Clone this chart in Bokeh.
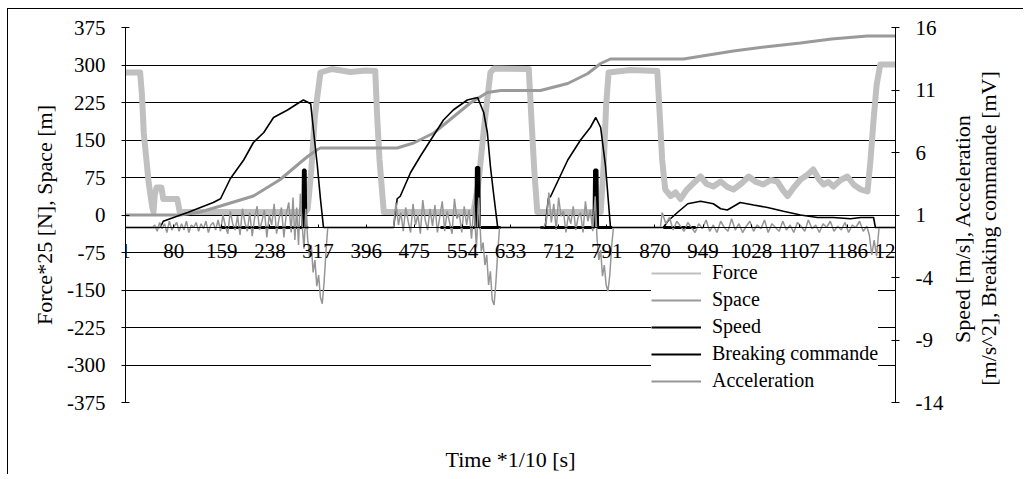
import math
import numpy as np
from bokeh.plotting import figure
from bokeh.layouts import row
from bokeh.models import Range1d, LinearAxis, FixedTicker, Grid, Legend, LegendItem, Label
from bokeh.embed import file_html
from bokeh.resources import INLINE

FONT = "Liberation Serif"

# ---------------- data ----------------
x_ticks = [1, 80, 159, 238, 317, 396, 475, 554, 633, 712, 791, 870, 949, 1028, 1107, 1186, 1265]
left_ticks = [-375, -300, -225, -150, -75, 0, 75, 150, 225, 300, 375]
right_ticks = [-14, -9, -4, 1, 6, 11, 16]

# Force*25 [N] (left axis)
force_t = [1, 25, 28, 31, 39, 45, 47, 49, 52, 60, 63, 86, 90, 296, 300, 306, 312, 321, 340, 370, 395, 411,
           414, 418, 425, 572, 580, 590, 600, 606, 663, 667, 672, 677, 781, 786, 790, 794, 830, 874,
           878, 882, 887, 896, 904, 912, 922, 932, 945, 955, 966, 978, 989, 999, 1012, 1024, 1036,
           1048, 1060, 1071, 1080, 1088, 1098, 1109, 1120, 1130, 1140, 1147, 1155, 1163, 1175, 1186,
           1197, 1208, 1219, 1224, 1229, 1234, 1240, 1265]
force_v = [285, 285, 240, 164, 65, 15, 6, 40, 55, 55, 32, 32, 6, 6, 12, 90, 200, 285, 292, 286, 289, 288,
           200, 110, 6, 6, 60, 180, 285, 293, 292, 200, 90, 6, 6, 100, 220, 285, 290, 288,
           200, 110, 51, 38, 45, 32, 50, 62, 77, 62, 57, 67, 56, 51, 63, 77, 66,
           61, 70, 67, 50, 38, 55, 71, 80, 91, 70, 61, 66, 57, 70, 77,
           60, 51, 47, 110, 190, 260, 301, 301]

# Space [m] (left axis)
space_t = [1, 91, 124, 157, 211, 255, 288, 300, 316, 321, 447, 474, 507, 539, 567, 595, 617, 682, 727, 760,
           781, 797, 917, 999, 1050, 1109, 1160, 1219, 1265]
space_v = [0, 0, 6, 18, 38, 71, 105, 117, 131, 134, 134, 144, 164, 196, 224, 245, 249, 249, 263, 283,
           303, 312, 312, 328, 336, 344, 352, 358, 358]

# Speed [m/s] (right axis)
speed_t = [1, 58, 63, 80, 103, 124, 145, 157, 173, 195, 211, 228, 244, 267, 283, 293, 305, 310, 316, 321,
           326, 441, 447, 452, 469, 485, 502, 523, 539, 562, 579, 589, 595, 600, 605, 612, 690, 695, 699, 727,
           748, 764, 773, 781, 789, 797, 799, 884, 891, 907, 924, 945, 966, 978, 989, 1010, 1032, 1055, 1081,
           1109, 1137, 1163, 1191, 1208, 1229, 1232, 1265]
speed_v = [0, 0, 0.5, 0.8, 1.2, 1.6, 2.0, 2.3, 3.9, 5.4, 6.8, 7.6, 8.8, 9.4, 9.9, 10.2, 9.9, 7.6, 4.9, 2.3,
           0, 0, 2.3, 2.5, 4.4, 5.7, 7.0, 8.6, 9.4, 10.2, 10.4, 9.2, 7.6, 4.9, 2.8, 0, 0, 2.3, 2.5, 5.4,
           7.0, 8.0, 8.8, 8.0, 4.9, 0.1, 0, 0, 0.5, 1.2, 1.9, 2.1, 1.9, 1.5, 1.4, 2.0, 1.8, 1.6, 1.3,
           1.0, 0.8, 0.8, 0.7, 0.8, 0.8, 0, 0]

# Breaking commande [mV] (right axis), None = no trace
brake_t = [157, 292, 293, 296, 297, 301, None, 518, 576, 577, 581, 582, 617, None,
           682, 770, 771, 775, 776, 800, None, 884, 937]
brake_v = [0, 0, 4.6, 4.6, 0, 0, None, 0, 0, 4.8, 4.8, 0, 0, None,
           0, 0, 4.6, 4.6, 0, 0, None, 0, 0]

# Acceleration [m/s^2] (right axis): segments (first time, time step, values)
acc_seg_t0 = [1, 49, 153, 273, 300, 336, 445, 569, 588, 618, 692, 775, 805, 882, 1222, 1242]
acc_seg_step = [44, 4, 4, 3, 3, 105, 4, 4, 3, 70, 4, 3, 74, 6, 4, 23]
acc_seg_vals = [
    [0, 0],
    [0.2, -0.3, 0.4, -0.1, 0.3, -0.4, 0.5, -0.2, 0.1, 0.4, -0.3, 0.3, -0.2, 0.5, -0.4, 0.2, 0.0, 0.4, -0.3,
     0.3, -0.1, 0.5, -0.4, 0.2, 0.4, -0.2],
    [0.6, -0.3, 1.0, 0.1, -0.5, 1.3, 0.3, -0.2, 0.9, -0.6, 1.5, 0.4, -0.3, 1.2, -0.7, 0.8, 1.7, -0.2, 0.5,
     1.4, -0.8, 1.0, 0.2, 1.9, -0.5, 0.7, 1.6, -0.8, 1.1, 2.0],
    [-0.4, 2.4, -1.0, 1.6, -1.4, 2.7, 0.2, -1.7, 1.5],
    [-0.9, -2.3, -1.4, -3.6, -2.6, -4.7, -3.8, -5.6, -6.1, -4.4, -2.0, 0],
    [0, 0],
    [2.0, 0.2, 1.2, -0.3, 1.6, 0.5, -0.4, 1.9, 0.2, 1.0, -0.5, 2.2, 0.6, -0.2, 1.5, 0.1, 1.8, -0.4, 0.9, 2.1,
     -0.3, 1.3, 0.4, -0.5, 2.3, 0.7, 1.1, -0.4, 1.7, 0.2, 1.4],
    [-0.9, 1.8, -1.6, 2.4, -1.9],
    [-1.2, -3.0, -2.2, -4.6, -3.5, -5.8, -6.2, -4.4, -2.0, 0],
    [0, 0],
    [0.6, 2.8, 0.4, 1.9, -0.2, 2.4, 0.9, 1.3, -0.4, 1.0, 0.3, 1.7, -0.2, 0.8, 1.2, -0.4, 2.1, 0.5, 1.4, -0.3, 2.5],
    [-0.8, -2.6, -1.8, -3.9, -3.0, -4.6, -5.1, -3.8, -1.5, 0],
    [0, 0],
    [1.2, 0.3, 0.8, -0.2, 0.5, 0.1, -0.3, 0.4, 0.0, -0.4, 0.3, -0.1, 0.6, -0.3, 0.2, -0.4, 0.5, 0.0, -0.3, 0.7,
     -0.2, 0.3, -0.4, 0.1, 0.5, -0.3, 0.2, -0.1, 0.6, -0.4, 0.3, 0.0, -0.3, 0.5, -0.2, 0.2, -0.4, 0.4, 0.1,
     -0.3, 0.6, -0.1, 0.2, -0.4, 0.3, 0.0, 0.5, -0.3, 0.1, -0.2, 0.4, -0.4, 0.2, 0.0, 0.5, -0.3, 0.1],
    [-0.6, -2.2, -1.0, -2.3, 0],
    [0, 0],
]

acc_t, acc_v = [], []
for t0, st, vals in zip(acc_seg_t0, acc_seg_step, acc_seg_vals):
    for i, v in enumerate(vals):
        acc_t.append(t0 + st * i)
        acc_v.append(v)

series_names = ["Force", "Space", "Speed", "Breaking commande", "Acceleration"]
series_colors = ["#c0c0c0", "#9a9a9a", "#000000", "#000000", "#969696"]
right_title = "Speed [m/s], Acceleration\n[m/s^2], Breaking commande [mV]"

# ---------------- main figure ----------------
H = 465
WM = 942
pm = figure(width=WM, height=H, output_backend="svg", toolbar_location=None,
            x_range=Range1d(1, 1265), y_range=Range1d(-375, 375),
            x_axis_location=None, y_axis_location=None,
            min_border_left=117, min_border_right=55, min_border_top=18, min_border_bottom=68,
            outline_line_color=None, background_fill_color="white", border_fill_color="white")
pm.extra_y_ranges = {"right": Range1d(-14, 16)}
pm.grid.visible = False

grid = Grid(dimension=1, ticker=FixedTicker(ticks=left_ticks), grid_line_color="black", grid_line_width=1)
pm.add_layout(grid)


def style_axis(ax, size="21px"):
    ax.major_label_text_font = FONT
    ax.major_label_text_font_size = size
    ax.major_label_text_color = "black"
    ax.axis_label_text_font = FONT
    ax.axis_label_text_font_size = "22px"
    ax.axis_label_text_font_style = "normal"
    ax.axis_label_text_color = "black"
    ax.axis_line_color = "black"
    ax.major_tick_line_color = "black"
    ax.minor_tick_line_color = None


ly = LinearAxis(ticker=FixedTicker(ticks=left_ticks), axis_label="Force*25 [N], Space [m]",
                major_label_overrides={v: str(v) for v in left_ticks})
style_axis(ly)
ly.major_tick_in = 4
ly.major_tick_out = 4
ly.major_label_standoff = 16
ly.axis_label_standoff = 7
pm.add_layout(ly, "left")

ry = LinearAxis(y_range_name="right", ticker=FixedTicker(ticks=right_ticks),
                major_label_overrides={v: str(v) for v in right_ticks})
style_axis(ry)
ry.major_tick_in = 4
ry.major_tick_out = 4
ry.major_label_standoff = 16
pm.add_layout(ry, "right")

xa = LinearAxis(ticker=FixedTicker(ticks=x_ticks), fixed_location=-25,
                major_label_overrides={v: str(v) for v in x_ticks})
style_axis(xa)
xa.major_tick_in = 3
xa.major_tick_out = 0
xa.major_label_standoff = 16
pm.add_layout(xa, "below")

xt = LinearAxis(ticker=FixedTicker(ticks=[]), axis_label="Time *1/10 [s]")
style_axis(xt)
xt.axis_line_color = None
xt.major_tick_line_color = None
xt.major_tick_in = 0
xt.major_tick_out = 0
xt.major_label_standoff = 0
xt.axis_label_standoff = 44
pm.add_layout(xt, "below")

# ---------------- series ----------------
pm.line(force_t, force_v, line_color=series_colors[0], line_width=6, line_join="round")
pm.line(space_t, space_v, line_color=series_colors[1], line_width=3)
pm.line(speed_t, speed_v, line_color=series_colors[2], line_width=1.6, y_range_name="right")
pm.line(np.array(brake_t, dtype=float), np.array(brake_v, dtype=float), line_color=series_colors[3],
        line_width=3, y_range_name="right")
pm.line(acc_t, acc_v, line_color=series_colors[4], line_width=1.5, y_range_name="right")

# legend proxies (thin lines as in the reference legend); NaN data so nothing is drawn in the plot
items = []
for name, col in zip(series_names, series_colors):
    r = pm.line(x=[np.nan], y=[np.nan], line_color=col, line_width=2)
    items.append(LegendItem(label=name, renderers=[r]))

legend = Legend(items=items, location=(526, 10), glyph_width=50, glyph_height=20, label_height=20,
                label_standoff=11, spacing=4, padding=8, margin=0, border_line_color=None,
                background_fill_color="white", background_fill_alpha=1.0,
                label_text_font=FONT, label_text_font_size="20px", label_text_color="black")
pm.add_layout(legend)

# ---------------- side strip holding the right-axis title ----------------
ps = figure(width=73, height=H, output_backend="svg", toolbar_location=None,
            x_range=Range1d(0, 1), y_range=Range1d(0, 1),
            x_axis_location=None, y_axis_location=None,
            min_border_left=0, min_border_right=0, min_border_top=0, min_border_bottom=0,
            outline_line_color=None, background_fill_color="white", border_fill_color="white")
ps.grid.visible = False
rt = Label(x=25, y=174, x_units="screen", y_units="screen", text=right_title,
           angle=math.pi / 2, text_align="center", text_baseline="middle",
           text_font=FONT, text_font_size="22px", text_color="black", text_line_height=1.05)
ps.add_layout(rt)

p = row(pm, ps, spacing=0,
        styles={"margin-left": "7px", "margin-top": "8px",
                "border-top": "1px solid black", "border-left": "1px solid black"})

open("out.html", "w").write(file_html(p, INLINE))
